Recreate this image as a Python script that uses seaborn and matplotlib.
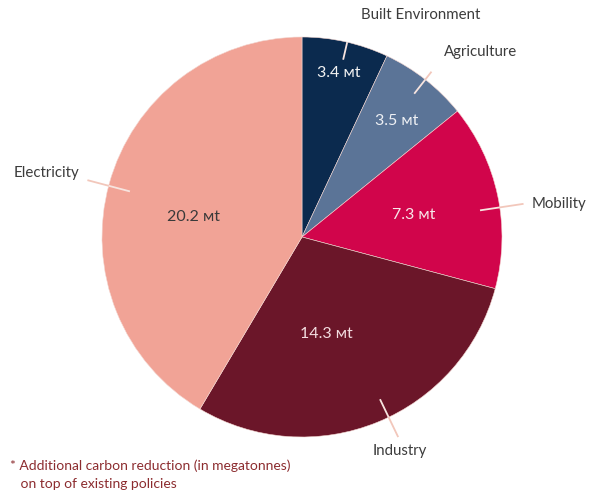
import numpy as np
import matplotlib
matplotlib.use("Agg")
import matplotlib.pyplot as plt
import seaborn as sns

sns.set_theme(style="white")
plt.rcParams["font.family"] = ["Lato", "DejaVu Sans"]

# Additional carbon reduction by sector, megatonnes
sectors = ["Built Environment", "Agriculture", "Mobility", "Industry", "Electricity"]
reductions = [3.4, 3.5, 7.3, 14.3, 20.2]
colors = ["#0b2a4e", "#5b7497", "#d1054b", "#6b1629", "#f1a396"]
value_text_colors = ["#f2f2f2", "#eef0f4", "#f7e8ea", "#f3dde0", "#3a3a3a"]

# per-sector placement of the value label (radius) and leader line (inner/outer radius)
value_radius = [0.84, 0.75, 0.57, 0.50, 0.55]
value_shift = [0.0, 1.0, 1.0, 8.0, -5.0]      # degrees, small nudges of value labels
leader_inner = [0.91, 0.91, 0.90, 0.90, 0.89]
leader_outer = [1.00, 1.05, 1.12, 1.11, 1.11]
leader_shift = [0.5, 0.0, 3.5, -3.5, -0.5]
label_offsets = [(14, 27), (12, 20), (8, 0), (2, -14), (-8, 7)]  # pixels from leader end
label_align = [("left", "center"), ("left", "center"), ("left", "center"),
               ("center", "center"), ("right", "center")]

fig = plt.figure(figsize=(5.91, 4.98), dpi=100)
ax = fig.add_axes([0, 0, 1, 1])

wedges, _ = ax.pie(reductions, colors=colors, startangle=90, counterclock=False,
                   radius=1.0, wedgeprops=dict(edgecolor="#f3d6d0", linewidth=0.4))

ax.set_aspect("equal")
ax.set_xlim(-1.51, 1.445)
ax.set_ylim(-1.305, 1.185)
ax.axis("off")

for i, w in enumerate(wedges):
    mid = np.deg2rad((w.theta1 + w.theta2) / 2.0)
    # value label inside the wedge
    a = mid - np.deg2rad(value_shift[i])
    r = value_radius[i]
    ax.text(r * np.cos(a), r * np.sin(a), f"{reductions[i]} ᴍt",
            color=value_text_colors[i], fontsize=11.5, ha="center", va="center")
    # leader line: pale inside the wedge, peach outside
    b = mid - np.deg2rad(leader_shift[i])
    r0, r1 = leader_inner[i], leader_outer[i]
    ax.plot([r0 * np.cos(b), 1.0 * np.cos(b)], [r0 * np.sin(b), 1.0 * np.sin(b)],
            color="#f7e4df", lw=1.3, solid_capstyle="butt")
    ax.plot([1.0 * np.cos(b), r1 * np.cos(b)], [1.0 * np.sin(b), r1 * np.sin(b)],
            color="#f2c7bb", lw=1.3, solid_capstyle="butt")
    ha, va = label_align[i]
    ax.annotate(sectors[i], xy=(r1 * np.cos(b), r1 * np.sin(b)),
                xytext=label_offsets[i], textcoords="offset pixels",
                ha=ha, va=va, fontsize=10.8, color="#3c3c3c")

fig.text(10 / 591, 1 - 475 / 498,
         "* Additional carbon reduction (in megatonnes)\n   on top of existing policies",
         ha="left", va="center", fontsize=10, color="#8c2c2f", linespacing=1.6)

fig.savefig("out.png", dpi=100, facecolor="white")
